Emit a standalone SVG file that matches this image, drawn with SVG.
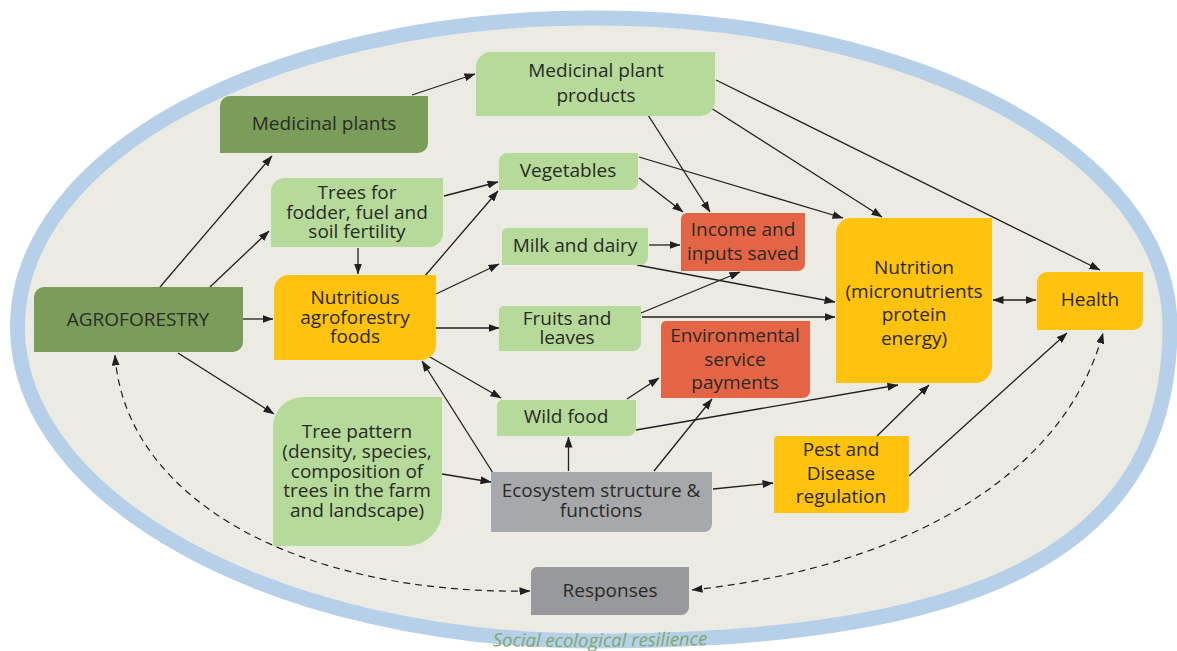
<svg xmlns="http://www.w3.org/2000/svg" width="1177" height="651" viewBox="0 0 1177 651">
<defs>
<marker id="ah" viewBox="0 0 11 8" refX="10.5" refY="4" markerWidth="11" markerHeight="8" markerUnits="userSpaceOnUse" orient="auto-start-reverse">
<path d="M0,0 L11,4 L0,8 Z" fill="#231F20"/>
</marker>
<path id="arcText" d="M380,642 C480,649 700,649 820,639"/>
</defs>
<style>
.t{font-family:"Open Sans","Noto Sans","Liberation Sans",sans-serif;font-size:19px;fill:#2B2A29;text-anchor:middle}
.dg{fill:#7A9D59}.lg{fill:#B5DA99}.or{fill:#FFC20F}.rd{fill:#E46545}.gy{fill:#A7A8AB}.gy2{fill:#98999C}
.c{fill:none;stroke:#231F20;stroke-width:1.3;marker-end:url(#ah)}
.d{fill:none;stroke:#231F20;stroke-width:1.2;stroke-dasharray:7,5;marker-end:url(#ah);marker-start:url(#ah)}
</style>
<rect width="1177" height="651" fill="#FFFFFF"/>
<path id="frame" d="M17.5,327 C17.5,154 271,18 594,18 C917,18 1170,154 1170,327 C1170,544 991,641 594,641 C277,641 17.5,500 17.5,327 Z" fill="#EBEBE4" stroke="#B7D0EA" stroke-width="15"/>
<text font-family="'Open Sans','Noto Sans','Liberation Sans',sans-serif" font-size="18.5" font-style="italic" fill="#7FA86A" text-anchor="middle"><textPath href="#arcText" startOffset="50%">Social ecological resilience</textPath></text>

<g id="connectors">
<path class="c" d="M160,287 L272,156"/>
<path class="c" d="M210,287 L269,231"/>
<path class="c" d="M243,319 L273,319"/>
<path class="c" d="M178,353 L274,414"/>
<path class="c" d="M412,95 L475,74"/>
<path class="c" d="M444,196 L498,182"/>
<path class="c" d="M358,248 L358,274"/>
<path class="c" d="M424,277 L498,191"/>
<path class="c" d="M436,294 L499,264"/>
<path class="c" d="M436,328 L499,328"/>
<path class="c" d="M430,357 L501,398"/>
<path class="c" d="M493,473 L422,361"/>
<path class="c" d="M442,474 L491,482"/>
<path class="c" d="M568.5,471 L568.5,437"/>
<path class="c" d="M654,471 L712,399"/>
<path class="c" d="M713,489 L773,483"/>
<path class="c" d="M627,399 L659,378"/>
<path class="c" d="M636,430 L898,385"/>
<path class="c" d="M641,313 L740,272"/>
<path class="c" d="M642,317 L835,317"/>
<path class="c" d="M637,265 L835,302"/>
<path class="c" d="M649,245 L680,245"/>
<path class="c" d="M639,178 L683,212"/>
<path class="c" d="M639,157 L843,218"/>
<path class="c" d="M648,115 L710,212"/>
<path class="c" d="M711,108 L882,217"/>
<path class="c" d="M716,80 L1100,270"/>
<path class="c" d="M993,300 L1036,300" marker-start="url(#ah)"/>
<path class="c" d="M877,436 L929,385"/>
<path class="c" d="M909,476 L1067,333"/>
<path class="d" d="M530,591 C300,595 125,500 115,355"/>
<path class="d" d="M692,590 C880,570 1060,490 1103,333"/>
</g>

<g id="medicinal-plants"><path class="dg" d="M230,96 H428 V143 A10,10 0 0 1 418,153 H220 V106 A10,10 0 0 1 230,96 Z"/><text class="t" x="324" y="130">Medicinal plants</text></g>
<g id="medicinal-plant-products"><path class="lg" d="M491,52 H715 V101 A15,15 0 0 1 700,116 H476 V67 A15,15 0 0 1 491,52 Z"/><text class="t" x="596" y="77">Medicinal plant</text><text class="t" x="596" y="102">products</text></g>
<g id="trees-fodder"><path class="lg" d="M285,178 H443 V233 A14,14 0 0 1 429,247 H271 V192 A14,14 0 0 1 285,178 Z"/><text class="t" x="357" y="199">Trees for</text><text class="t" x="357" y="218.5">fodder, fuel and</text><text class="t" x="357" y="238">soil fertility</text></g>
<g id="vegetables"><path class="lg" d="M507,153 H638 V182 A8,8 0 0 1 630,190 H499 V161 A8,8 0 0 1 507,153 Z"/><text class="t" x="568" y="177">Vegetables</text></g>
<g id="milk-dairy"><path class="lg" d="M507,228 H648 V257 A8,8 0 0 1 640,265 H502 V233 A5,5 0 0 1 507,228 Z"/><text class="t" x="575" y="252">Milk and dairy</text></g>
<g id="income"><path class="rd" d="M687,213 H805 V264 A7,7 0 0 1 798,271 H681 V219 A6,6 0 0 1 687,213 Z"/><text class="t" x="743" y="236">Income and</text><text class="t" x="743" y="260">inputs saved</text></g>
<g id="nutrition"><path class="or" d="M851,218 H992 V366 A17,17 0 0 1 975,383 H836 V233 A15,15 0 0 1 851,218 Z"/><text class="t" x="914" y="274">Nutrition</text><text class="t" x="914" y="297.5">(micronutrients</text><text class="t" x="914" y="321">protein</text><text class="t" x="914" y="344.5">energy)</text></g>
<g id="health"><path class="or" d="M1047,272 H1143 V320 A10,10 0 0 1 1133,330 H1037 V282 A10,10 0 0 1 1047,272 Z"/><text class="t" x="1090" y="306">Health</text></g>
<g id="agroforestry"><path class="dg" d="M44,287 H243 V342 A10,10 0 0 1 233,352 H34 V297 A10,10 0 0 1 44,287 Z"/><text class="t" x="138" y="326">AGROFORESTRY</text></g>
<g id="nutritious-foods"><path class="or" d="M289,275 H436 V345 A15,15 0 0 1 421,360 H274 V290 A15,15 0 0 1 289,275 Z"/><text class="t" x="355" y="304">Nutritious</text><text class="t" x="355" y="323.5">agroforestry</text><text class="t" x="355" y="343">foods</text></g>
<g id="fruits-leaves"><path class="lg" d="M504,306 H641 V343 A8,8 0 0 1 633,351 H499 V311 A5,5 0 0 1 504,306 Z"/><text class="t" x="567" y="325">Fruits and</text><text class="t" x="567" y="344">leaves</text></g>
<g id="env-service"><path class="rd" d="M666,321 H810 V391 A7,7 0 0 1 803,398 H661 V326 A5,5 0 0 1 666,321 Z"/><text class="t" x="735" y="342">Environmental</text><text class="t" x="735" y="365.5">service</text><text class="t" x="735" y="389">payments</text></g>
<g id="wild-food"><path class="lg" d="M502,400 H636 V428 A8,8 0 0 1 628,436 H497 V405 A5,5 0 0 1 502,400 Z"/><text class="t" x="566" y="423">Wild food</text></g>
<g id="tree-pattern"><path class="lg" d="M303,397 H442 V511 A35,35 0 0 1 407,546 H273 V427 A30,30 0 0 1 303,397 Z"/><text class="t" x="357" y="438">Tree pattern</text><text class="t" x="357" y="458">(density, species,</text><text class="t" x="357" y="477.5">composition of</text><text class="t" x="357" y="497">trees in the farm</text><text class="t" x="357" y="517">and landscape)</text></g>
<g id="ecosystem"><path class="gy" d="M491,472 H712 V524 A8,8 0 0 1 704,532 H491 Z"/><text class="t" x="601" y="497">Ecosystem structure &amp;</text><text class="t" x="601" y="517">functions</text></g>
<g id="pest-disease"><path class="or" d="M778,436 H909 V507 A6,6 0 0 1 903,513 H774 V440 A4,4 0 0 1 778,436 Z"/><text class="t" x="841" y="456">Pest and</text><text class="t" x="841" y="479.5">Disease</text><text class="t" x="841" y="503">regulation</text></g>
<g id="responses"><path class="gy2" d="M537,567 H689 V607 A8,8 0 0 1 681,615 H531 V573 A6,6 0 0 1 537,567 Z"/><text class="t" x="610" y="597">Responses</text></g>
</svg>
